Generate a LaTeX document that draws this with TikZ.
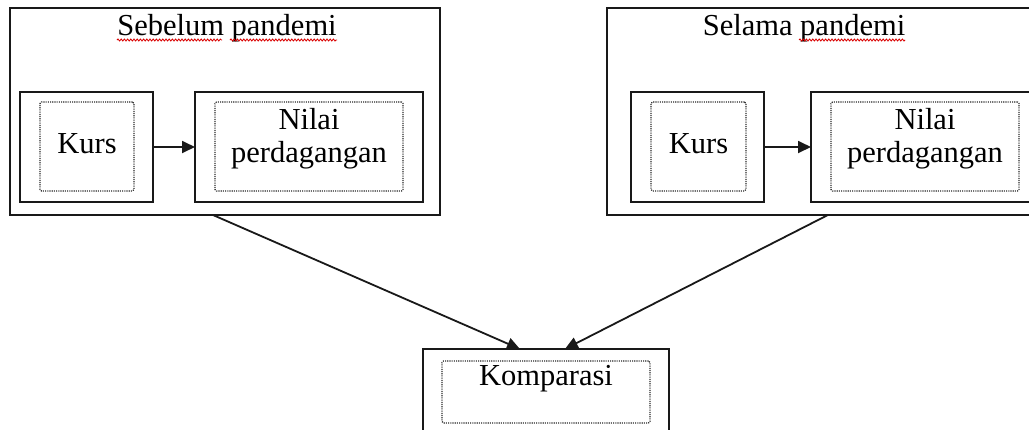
\documentclass[tikz,border=0pt]{standalone}
\usepackage{fontspec}
\setmainfont{Liberation Serif}
\usetikzlibrary{arrows.meta,calc,decorations.pathmorphing}
\begin{document}
\begin{tikzpicture}[x=1pt,y=-1pt,
  every node/.style={inner sep=0pt,outer sep=0pt},
  frame/.style={draw=black!90,line width=2pt,minimum width=#1},
  dotbox/.style={draw=black!85,line width=1.2pt,dash pattern=on 1.1pt off 1.1pt,rounded corners=1.5pt,minimum width=#1},
  label/.style={font=\fontsize{30.5}{33}\selectfont,text=black,align=center,anchor=base},
  link/.style={draw=black!90,line width=1.8pt,-{Triangle[length=13pt,width=12pt]}},
  squiggle/.style={draw=red!85!black,line width=0.8pt,decorate,decoration={snake,amplitude=1pt,segment length=3.2pt}}
]
\useasboundingbox (0,0) rectangle (1029,429);
\clip (0,0) rectangle (1029,429);

% Panel: before the pandemic
\node[frame=430pt,minimum height=207pt] (lp) at (225,111.5) {};
\node[label] (lpt) at (227,35) {Sebelum pandemi};
\node[frame=133pt,minimum height=110pt] (lk) at (86.5,147) {};
\node[dotbox=94pt,minimum height=89pt] (lki) at (87,146.5) {};
\node[label] (lkt) at (87,153) {Kurs};
\node[frame=228pt,minimum height=110pt] (ln) at (309,147) {};
\node[dotbox=188pt,minimum height=89pt] (lni) at (309,146.5) {};
\node[label] (lnt) at (309,162) {Nilai\\perdagangan};

% Panel: during the pandemic
\node[frame=449pt,minimum height=207pt] (rp) at (831.5,111.5) {};
\node[label] (rpt) at (804,35) {Selama pandemi};
\node[frame=133pt,minimum height=110pt] (rk) at (697.5,147) {};
\node[dotbox=95pt,minimum height=89pt] (rki) at (698.5,146.5) {};
\node[label] (rkt) at (698.5,153) {Kurs};
\node[frame=228pt,minimum height=110pt] (rn) at (925,147) {};
\node[dotbox=188pt,minimum height=89pt] (rni) at (925,146.5) {};
\node[label] (rnt) at (925,162) {Nilai\\perdagangan};

% Comparison box
\node[frame=246pt,minimum height=96pt] (kp) at (546,397) {};
\node[dotbox=208pt,minimum height=62pt] (kpi) at (546,392) {};
\node[label] (kpt) at (546,385) {Komparasi};

% Spell-check squiggles under the titles
\path[squiggle] (117,40) -- (222,40);
\path[squiggle] (230,40) -- (337,40);
\path[squiggle] (799,40) -- (905,40);

% Connectors
\draw[link] (lk.east) -- (ln.west);
\draw[link] (rk.east) -- (rn.west);
\draw[link] ($(lp.south west)!0.472!(lp.south east)$) -- ($(kp.north west)!0.394!(kp.north east)$);
\draw[link] ($(rp.south west)!0.492!(rp.south east)$) -- ($(kp.north west)!0.577!(kp.north east)$);
\end{tikzpicture}
\end{document}
